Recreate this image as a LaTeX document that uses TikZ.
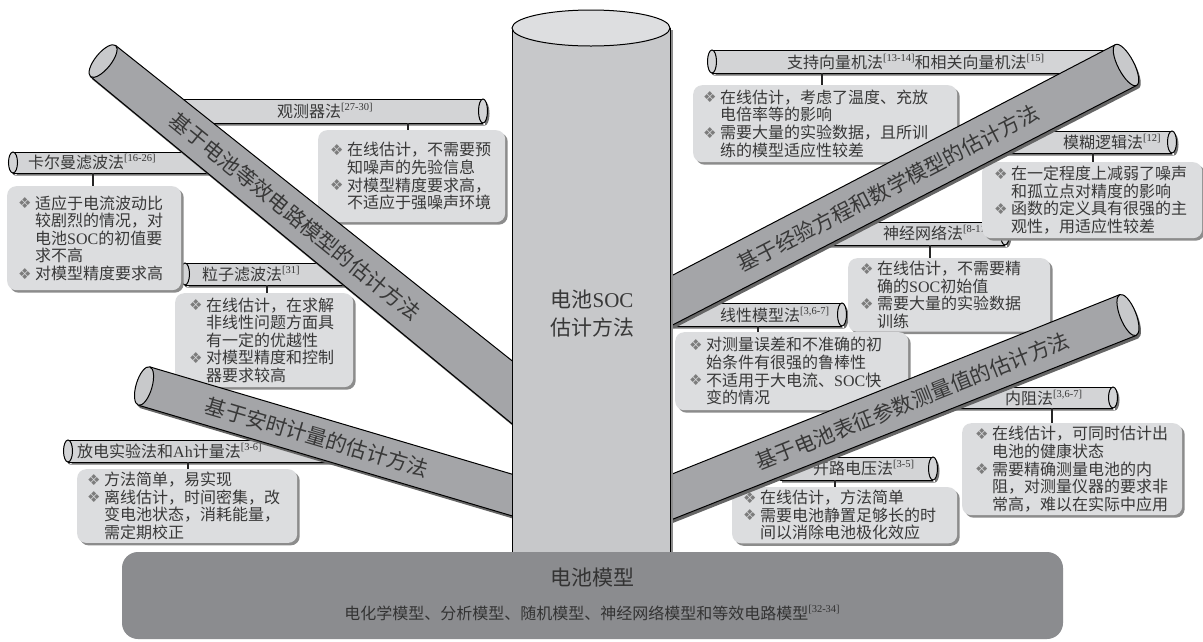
\documentclass[tikz,border=0pt]{standalone}
\usepackage{fontspec}
\setmainfont{Liberation Serif}
\newfontfamily\cjk{Noto Sans CJK SC}
\newfontfamily\dv{DejaVu Sans}
\usetikzlibrary{shadows}
\definecolor{boxfill}{HTML}{DCDDDF}
\definecolor{tubefill}{HTML}{D3D4D6}
\definecolor{bigtube}{HTML}{A4A5A8}
\definecolor{capfill}{HTML}{C8C9CB}
\definecolor{cylfill}{HTML}{C7C8CA}
\definecolor{cyltop}{HTML}{DDDEE0}
\definecolor{basefill}{HTML}{8B8C8F}
\definecolor{txt}{HTML}{383838}
\definecolor{bul}{HTML}{7C7C7C}
\newcommand\bl{\makebox[17pt][l]{\raisebox{0.5pt}{\dv\fontsize{15}{15}\selectfont\color{bul}❖}}}
\newcommand\ind{\hspace*{17pt}}
\newcommand\rf[1]{\raisebox{0.45em}{\rmfamily\fontsize{10.5}{10.5}\selectfont #1}}
\newcommand\lt[1]{{\rmfamily #1}}
% small tube: x-left, x-right, y-top, y-bottom, cap x
\newcommand\stube[5]{%
  \pgfmathsetmacro\tubeym{(#3+#4)/2}%
  \pgfmathsetmacro\tubery{(#4-#3)/2}%
  \fill[black!55] (#1+2,#3+2.5) rectangle (#2+2,#4+2.5) (#5+2,\tubeym+2.5) ellipse [x radius=4.5, y radius=\tubery];
  \fill[tubefill] (#1,#3) rectangle (#2,#4);
  \draw[tubeline] (#1,#3) -- (#2,#3) (#1,#4) -- (#2,#4);
  \filldraw[fill=tubefill, tubeline] (#5,\tubeym) ellipse [x radius=4.5, y radius=\tubery];
}
% big tube: x1 y1 (at cylinder), x2 y2 (free end), width at cylinder, width at end
\newcommand\btube[6]{%
  \pgfmathsetmacro\tubeang{atan2(-(#4-#2),#3-#1)}%
  \pgfmathsetmacro\tubelen{veclen(#3-#1,#4-#2)}%
  \begin{scope}[shift={(#1+2,#2+3)}, rotate=\tubeang]
    \fill[black!60] (-60,-#5/2) -- (\tubelen,-#6/2) -- (\tubelen,#6/2) -- (-60,#5/2) -- cycle
      (\tubelen,0) ellipse [x radius=8, y radius=#6/2];
  \end{scope}
  \begin{scope}[shift={(#1,#2)}, rotate=\tubeang]
    \fill[bigtube] (-60,-#5/2) -- (\tubelen,-#6/2) -- (\tubelen,#6/2) -- (-60,#5/2) -- cycle;
    \draw[tubeline] (-60,-#5/2) -- (\tubelen,-#6/2) (-60,#5/2) -- (\tubelen,#6/2);
    \filldraw[fill=capfill, tubeline] (\tubelen,0) ellipse [x radius=8, y radius=#6/2];
  \end{scope}
}
% info box: name, left, top, right, bottom, xsep, text
\newcommand\infobox[7]{%
  \pgfmathsetmacro\boxtw{#4-#2-2*#6}%
  \pgfmathsetmacro\boxbh{#5-#3}%
  \node[infobox, inner xsep=#6pt, text width=\boxtw pt, minimum height=\boxbh pt] (#1) at (#2,#3) {#7};
}
\begin{document}
\begin{tikzpicture}[x=1pt,y=-1pt,
  tubeline/.style={draw=black, line width=1pt},
  tlab/.style={font=\cjk\fontsize{16}{16}\selectfont, text=txt, inner sep=0pt, anchor=west},
  infobox/.style={fill=boxfill, rounded corners=9pt, anchor=north west, align=left, inner ysep=3pt,
    font=\cjk\fontsize{16}{17.6}\selectfont, text=txt,
    drop shadow={shadow xshift=2.5pt, shadow yshift=-2.5pt, fill=black!45, opacity=1}},
  stem/.style={line width=2.5pt, draw=black!85},
  bigtext/.style={font=\cjk\fontsize{21}{21}\selectfont, text=txt, inner sep=0pt, sloped}]
\useasboundingbox (0,0) rectangle (1203,641);
\fill[white] (0,0) rectangle (1203,641);

% ---------- small tubes, labels, stems, boxes (left side) ----------
\stube{13}{220}{152}{173}{13}
\node[tlab] (kal) at (28,162) {卡尔曼滤波法\rf{[16-26]}};
\stube{160}{483}{99}{123}{483}
\node[tlab] (obs) at (277,111) {观测器法\rf{[27-30]}};
\stube{185}{360}{263}{285}{185}
\node[tlab] (par) at (202,274) {粒子滤波法\rf{[31]}};
\stube{68}{345}{440}{462}{68}
\node[tlab] (dis) at (77,451) {放电实验法和\lt{Ah}计量法\rf{[3-6]}};

\infobox{kalbox}{7}{186}{181}{290}{11}{\bl 适应于电流波动比\\ \ind 较剧烈的情况，对\\ \ind 电池\lt{SOC}的初值要\\ \ind 求不高\\ \bl 对模型精度要求高}
\infobox{obsbox}{318}{130}{505}{222}{12}{\bl 在线估计，不需要预\\ \ind 知噪声的先验信息\\ \bl 对模型精度要求高，\\ \ind 不适应于强噪声环境}
\infobox{parbox}{175}{293}{353}{387}{14}{\bl 在线估计，在求解\\ \ind 非线性问题方面具\\ \ind 有一定的优越性\\ \bl 对模型精度和控制\\ \ind 器要求较高}
\infobox{disbox}{77}{469}{297}{542}{10}{\bl 方法简单，易实现\\ \bl 离线估计，时间密集，改\\ \ind 变电池状态，消耗能量，\\ \ind 需定期校正}

\coordinate (kals) at (93,173);  \draw[stem] (kals) -- (kals |- kalbox.north);
\coordinate (obss) at (408,123); \draw[stem] (obss) -- (obss |- obsbox.north);
\coordinate (pars) at (267,285); \draw[stem] (pars) -- (pars |- parbox.north);
\coordinate (diss) at (188,462); \draw[stem] (diss) -- (diss |- disbox.north);

% ---------- small tubes, labels, stems, boxes (right side) ----------
\stube{712}{1115}{50}{73}{712}
\node[tlab] (svm) at (787,62) {支持向量机法\rf{[13-14]}和相关向量机法\rf{[15]}};
\stube{1000}{1172}{131}{153}{1172}
\node[tlab] (fuz) at (1063,142) {模糊逻辑法\rf{[12]}};
\stube{820}{1005}{222}{245}{1005}
\node[tlab] (nn) at (883,233) {神经网络法\rf{[8-11]}};
\stube{672}{842}{303}{326}{842}
\node[tlab] (lin) at (720,315) {线性模型法\rf{[3,6-7]}};
\stube{940}{1113}{387}{408}{1113}
\node[tlab] (ir) at (1005,398) {内阻法\rf{[3,6-7]}};
\stube{780}{933}{457}{480}{933}
\node[tlab] (ocv) at (813,468) {开路电压法\rf{[3-5]}};

\infobox{svmbox}{693}{85}{957}{162}{10}{\bl 在线估计，考虑了温度、充放\\ \ind 电倍率等的影响\\ \bl 需要大量的实验数据，且所训\\ \ind 练的模型适应性较差}
\infobox{fuzbox}{982}{162}{1202}{238}{12}{\bl 在一定程度上减弱了噪声\\ \ind 和孤立点对精度的影响\\ \bl 函数的定义具有很强的主\\ \ind 观性，用适应性较差}
\infobox{nnbox}{848}{258}{1050}{330}{12}{\bl 在线估计，不需要精\\ \ind 确的\lt{SOC}初始值\\ \bl 需要大量的实验数据\\ \ind 训练}
\infobox{linbox}{675}{332}{908}{410}{14}{\bl 对测量误差和不准确的初\\ \ind 始条件有很强的鲁棒性\\ \bl 不适用于大电流、\lt{SOC}快\\ \ind 变的情况}
\infobox{irbox}{962}{423}{1182}{515}{13}{\bl 在线估计，可同时估计出\\ \ind 电池的健康状态\\ \bl 需要精确测量电池的内\\ \ind 阻，对测量仪器的要求非\\ \ind 常高，难以在实际中应用}
\infobox{ocvbox}{732}{487}{957}{542}{11}{\bl 在线估计，方法简单\\ \bl 需要电池静置足够长的时\\ \ind 间以消除电池极化效应}

\coordinate (svms) at (822,73);   \draw[stem] (svms) -- (svms |- svmbox.north);
\coordinate (fuzs) at (1093,153); \draw[stem] (fuzs) -- (fuzs |- fuzbox.north);
\coordinate (nns) at (930,245);   \draw[stem] (nns) -- (nns |- nnbox.north);
\coordinate (lins) at (758,326);  \draw[stem] (lins) -- (lins |- linbox.north);
\coordinate (irs) at (1052,408);  \draw[stem] (irs) -- (irs |- irbox.north);
\coordinate (ocvs) at (835,480);  \draw[stem] (ocvs) -- (ocvs |- ocvbox.north);

% ---------- big tubes ----------
\btube{512}{392}{103}{61}{50}{40}
\coordinate (t1a) at (512,392); \coordinate (t1b) at (103,61);
\path (t1a) -- (t1b) node[bigtext, pos=0.53] (t1txt) {基于电池等效电路模型的估计方法};
\btube{512}{495}{144}{386}{40}{40}
\coordinate (t2a) at (512,495); \coordinate (t2b) at (144,386);
\path (t2a) -- (t2b) node[bigtext, pos=0.53] (t2txt) {基于安时计量的估计方法};
\btube{669}{302}{1126}{65}{44}{46}
\coordinate (t3a) at (669,302); \coordinate (t3b) at (1126,65);
\path (t3a) -- (t3b) node[bigtext, pos=0.48] (t3txt) {基于经验方程和数学模型的估计方法};
\btube{669}{498}{1128}{315}{42}{44}
\coordinate (t4a) at (669,498); \coordinate (t4b) at (1128,315);
\path (t4a) -- (t4b) node[bigtext, pos=0.53] (t4txt) {基于电池表征参数测量值的估计方法};

% ---------- central cylinder ----------
\fill[black!45] (515,30) rectangle (673,580);
\fill[cylfill] (512,28) rectangle (670,580);
\draw[tubeline] (512,28) -- (512,580) (670,28) -- (670,580);
\filldraw[fill=cyltop, tubeline] (591,28) ellipse [x radius=79, y radius=18];
\node[font=\cjk\fontsize{21}{28}\selectfont, text=txt, align=center] (soc) at (592,314) {电池\lt{SOC}\\估计方法};

% ---------- battery model base ----------
\fill[basefill, rounded corners=16pt] (122,552) rectangle (1063,639);
\node[font=\cjk\fontsize{21}{21}\selectfont, text=black!80] (model) at (592,578) {电池模型};
\node[font=\cjk\fontsize{16}{16}\selectfont, text=black!80] (models) at (592,613) {电化学模型、分析模型、随机模型、神经网络模型和等效电路模型\rf{[32-34]}};
\end{tikzpicture}
\end{document}
